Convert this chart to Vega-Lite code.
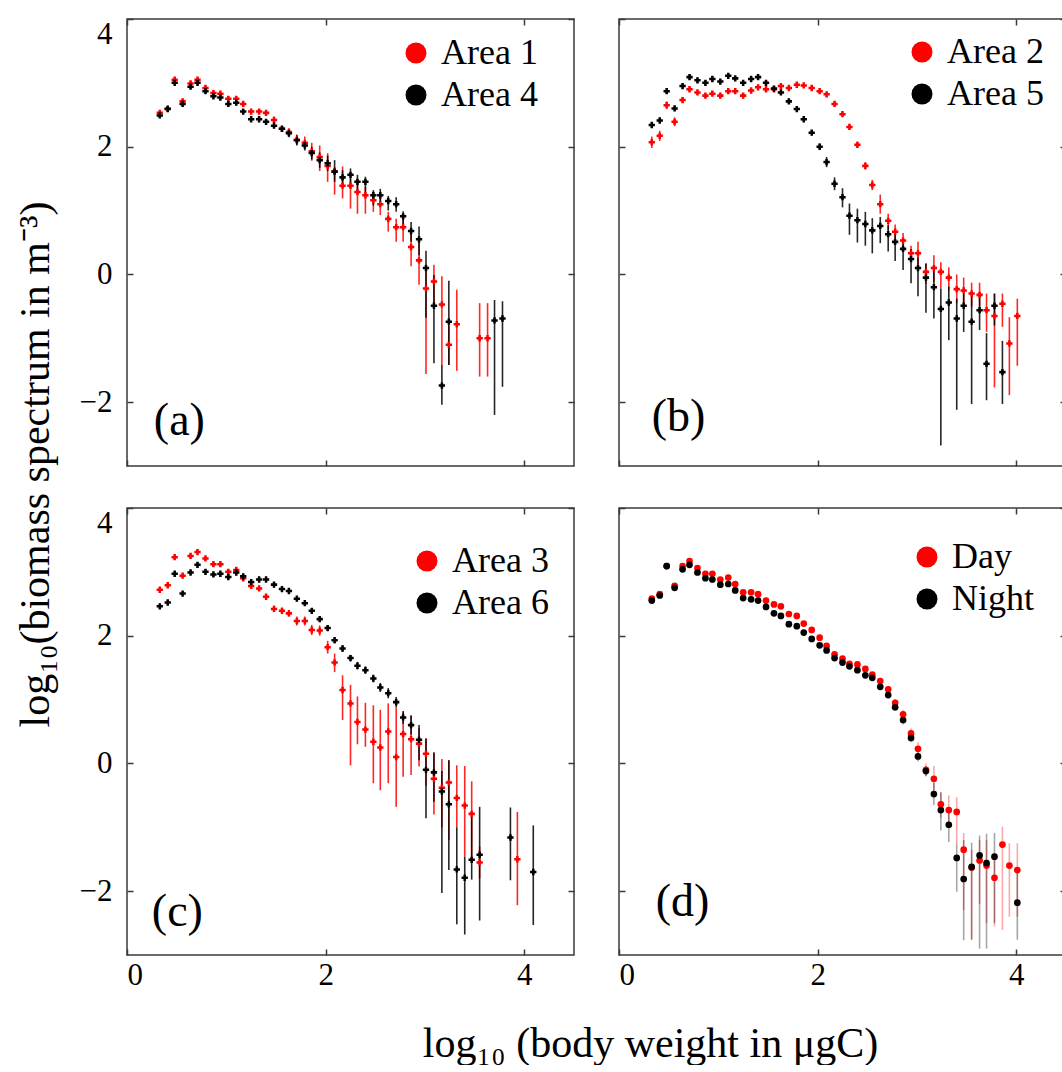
{
"$schema": "https://vega.github.io/schema/vega-lite/v6.json",
"padding": {"left": 13, "top": 17, "right": 0, "bottom": 0},
"config": {
 "font": "Liberation Serif",
 "view": {"stroke": "#3a3a3a", "strokeWidth": 1.5},
 "axis": {"domain": false, "grid": false, "tickSize": -6, "tickColor": "#3a3a3a", "tickWidth": 1.5, "labelFontSize": 31, "labelColor": "black", "labelFont": "Liberation Serif", "titleFont": "Liberation Serif", "titleFontSize": 42, "titleFontWeight": "normal", "titleColor": "black"},
 "axisX": {"labelPadding": 11},
 "axisY": {"labelPadding": 21},
 "legend": {"labelFontSize": 36, "labelFont": "Liberation Serif", "labelColor": "black", "symbolType": "circle", "symbolSize": 440, "symbolStrokeWidth": 0, "labelOffset": 7, "rowPadding": 6, "padding": 0}
},
"datasets": {
 "a": [
{"x":0.33,"y":2.53,"lo":2.49,"hi":2.57,"s":"Area 1"},{"x":0.41,"y":2.60,"lo":2.56,"hi":2.64,"s":"Area 1"},{"x":0.48,"y":3.05,"lo":3.01,"hi":3.09,"s":"Area 1"},{"x":0.56,"y":2.71,"lo":2.67,"hi":2.75,"s":"Area 1"},{"x":0.64,"y":2.99,"lo":2.95,"hi":3.03,"s":"Area 1"},{"x":0.71,"y":3.05,"lo":3.01,"hi":3.09,"s":"Area 1"},{"x":0.79,"y":2.92,"lo":2.88,"hi":2.96,"s":"Area 1"},{"x":0.87,"y":2.84,"lo":2.80,"hi":2.88,"s":"Area 1"},{"x":0.94,"y":2.83,"lo":2.79,"hi":2.87,"s":"Area 1"},{"x":1.02,"y":2.75,"lo":2.71,"hi":2.79,"s":"Area 1"},{"x":1.10,"y":2.75,"lo":2.71,"hi":2.79,"s":"Area 1"},{"x":1.17,"y":2.67,"lo":2.63,"hi":2.71,"s":"Area 1"},{"x":1.25,"y":2.55,"lo":2.51,"hi":2.59,"s":"Area 1"},{"x":1.33,"y":2.55,"lo":2.51,"hi":2.59,"s":"Area 1"},{"x":1.40,"y":2.53,"lo":2.49,"hi":2.57,"s":"Area 1"},{"x":1.48,"y":2.42,"lo":2.37,"hi":2.47,"s":"Area 1"},{"x":1.56,"y":2.28,"lo":2.23,"hi":2.33,"s":"Area 1"},{"x":1.63,"y":2.23,"lo":2.17,"hi":2.29,"s":"Area 1"},{"x":1.71,"y":2.11,"lo":2.03,"hi":2.19,"s":"Area 1"},{"x":1.79,"y":2.06,"lo":1.96,"hi":2.16,"s":"Area 1"},{"x":1.86,"y":1.93,"lo":1.78,"hi":2.06,"s":"Area 1"},{"x":1.94,"y":1.84,"lo":1.62,"hi":2.02,"s":"Area 1"},{"x":2.02,"y":1.70,"lo":1.45,"hi":1.90,"s":"Area 1"},{"x":2.09,"y":1.61,"lo":1.25,"hi":1.68,"s":"Area 1"},{"x":2.17,"y":1.39,"lo":1.19,"hi":1.69,"s":"Area 1"},{"x":2.25,"y":1.39,"lo":1.03,"hi":1.50,"s":"Area 1"},{"x":2.32,"y":1.29,"lo":0.95,"hi":1.45,"s":"Area 1"},{"x":2.40,"y":1.24,"lo":0.95,"hi":1.37,"s":"Area 1"},{"x":2.48,"y":1.16,"lo":0.98,"hi":1.27,"s":"Area 1"},{"x":2.55,"y":1.10,"lo":0.93,"hi":1.24,"s":"Area 1"},{"x":2.63,"y":0.87,"lo":0.67,"hi":0.98,"s":"Area 1"},{"x":2.71,"y":0.74,"lo":0.51,"hi":0.87,"s":"Area 1"},{"x":2.78,"y":0.74,"lo":0.51,"hi":0.87,"s":"Area 1"},{"x":2.86,"y":0.43,"lo":0.13,"hi":0.67,"s":"Area 1"},{"x":2.94,"y":0.22,"lo":-0.16,"hi":0.56,"s":"Area 1"},{"x":3.01,"y":-0.22,"lo":-1.56,"hi":0.15,"s":"Area 1"},{"x":3.09,"y":-0.11,"lo":-0.45,"hi":0.15,"s":"Area 1"},{"x":3.17,"y":-0.47,"lo":-1.42,"hi":-0.03,"s":"Area 1"},{"x":3.24,"y":-1.10,"lo":-1.42,"hi":-0.80,"s":"Area 1"},{"x":3.32,"y":-0.78,"lo":-1.51,"hi":-0.24,"s":"Area 1"},{"x":3.55,"y":-1.00,"lo":-1.60,"hi":-0.45,"s":"Area 1"},{"x":3.63,"y":-1.00,"lo":-1.60,"hi":-0.45,"s":"Area 1"},
{"x":0.33,"y":2.49,"lo":2.45,"hi":2.53,"s":"Area 4"},{"x":0.41,"y":2.59,"lo":2.55,"hi":2.63,"s":"Area 4"},{"x":0.48,"y":3.00,"lo":2.96,"hi":3.04,"s":"Area 4"},{"x":0.56,"y":2.67,"lo":2.63,"hi":2.71,"s":"Area 4"},{"x":0.64,"y":2.94,"lo":2.90,"hi":2.98,"s":"Area 4"},{"x":0.71,"y":3.00,"lo":2.96,"hi":3.04,"s":"Area 4"},{"x":0.79,"y":2.87,"lo":2.83,"hi":2.91,"s":"Area 4"},{"x":0.87,"y":2.79,"lo":2.75,"hi":2.83,"s":"Area 4"},{"x":0.94,"y":2.77,"lo":2.73,"hi":2.81,"s":"Area 4"},{"x":1.02,"y":2.67,"lo":2.63,"hi":2.71,"s":"Area 4"},{"x":1.10,"y":2.69,"lo":2.65,"hi":2.73,"s":"Area 4"},{"x":1.17,"y":2.55,"lo":2.51,"hi":2.59,"s":"Area 4"},{"x":1.25,"y":2.43,"lo":2.39,"hi":2.47,"s":"Area 4"},{"x":1.33,"y":2.43,"lo":2.39,"hi":2.47,"s":"Area 4"},{"x":1.40,"y":2.39,"lo":2.35,"hi":2.43,"s":"Area 4"},{"x":1.48,"y":2.33,"lo":2.29,"hi":2.37,"s":"Area 4"},{"x":1.56,"y":2.28,"lo":2.23,"hi":2.33,"s":"Area 4"},{"x":1.63,"y":2.21,"lo":2.15,"hi":2.27,"s":"Area 4"},{"x":1.71,"y":2.10,"lo":2.02,"hi":2.18,"s":"Area 4"},{"x":1.79,"y":2.02,"lo":1.94,"hi":2.10,"s":"Area 4"},{"x":1.86,"y":1.90,"lo":1.80,"hi":2.00,"s":"Area 4"},{"x":1.94,"y":1.79,"lo":1.67,"hi":1.91,"s":"Area 4"},{"x":2.02,"y":1.74,"lo":1.62,"hi":1.86,"s":"Area 4"},{"x":2.09,"y":1.61,"lo":1.45,"hi":1.79,"s":"Area 4"},{"x":2.17,"y":1.52,"lo":1.40,"hi":1.63,"s":"Area 4"},{"x":2.25,"y":1.56,"lo":1.35,"hi":1.66,"s":"Area 4"},{"x":2.32,"y":1.45,"lo":1.29,"hi":1.56,"s":"Area 4"},{"x":2.40,"y":1.45,"lo":1.27,"hi":1.53,"s":"Area 4"},{"x":2.48,"y":1.24,"lo":1.08,"hi":1.32,"s":"Area 4"},{"x":2.55,"y":1.24,"lo":1.08,"hi":1.34,"s":"Area 4"},{"x":2.63,"y":1.15,"lo":1.00,"hi":1.23,"s":"Area 4"},{"x":2.71,"y":1.10,"lo":0.98,"hi":1.21,"s":"Area 4"},{"x":2.78,"y":0.91,"lo":0.74,"hi":0.99,"s":"Area 4"},{"x":2.86,"y":0.68,"lo":0.51,"hi":0.82,"s":"Area 4"},{"x":2.94,"y":0.55,"lo":0.30,"hi":0.75,"s":"Area 4"},{"x":3.01,"y":0.10,"lo":-0.68,"hi":0.37,"s":"Area 4"},{"x":3.09,"y":-0.49,"lo":-1.39,"hi":-0.01,"s":"Area 4"},{"x":3.17,"y":-1.74,"lo":-2.04,"hi":-1.42,"s":"Area 4"},{"x":3.24,"y":-0.74,"lo":-1.42,"hi":-0.10,"s":"Area 4"},{"x":3.70,"y":-0.72,"lo":-2.20,"hi":-0.40,"s":"Area 4"},{"x":3.78,"y":-0.69,"lo":-1.76,"hi":-0.42,"s":"Area 4"}
 ],
 "b": [
{"x":0.33,"y":2.07,"lo":1.98,"hi":2.16,"s":"Area 2"},{"x":0.41,"y":2.17,"lo":2.09,"hi":2.25,"s":"Area 2"},{"x":0.48,"y":2.65,"lo":2.59,"hi":2.71,"s":"Area 2"},{"x":0.56,"y":2.39,"lo":2.32,"hi":2.46,"s":"Area 2"},{"x":0.64,"y":2.73,"lo":2.69,"hi":2.77,"s":"Area 2"},{"x":0.71,"y":2.90,"lo":2.86,"hi":2.94,"s":"Area 2"},{"x":0.79,"y":2.85,"lo":2.81,"hi":2.89,"s":"Area 2"},{"x":0.87,"y":2.80,"lo":2.76,"hi":2.84,"s":"Area 2"},{"x":0.94,"y":2.83,"lo":2.79,"hi":2.87,"s":"Area 2"},{"x":1.02,"y":2.80,"lo":2.76,"hi":2.84,"s":"Area 2"},{"x":1.10,"y":2.87,"lo":2.83,"hi":2.91,"s":"Area 2"},{"x":1.17,"y":2.87,"lo":2.83,"hi":2.91,"s":"Area 2"},{"x":1.25,"y":2.80,"lo":2.76,"hi":2.84,"s":"Area 2"},{"x":1.33,"y":2.88,"lo":2.84,"hi":2.92,"s":"Area 2"},{"x":1.40,"y":2.93,"lo":2.89,"hi":2.97,"s":"Area 2"},{"x":1.48,"y":2.90,"lo":2.86,"hi":2.94,"s":"Area 2"},{"x":1.56,"y":2.90,"lo":2.86,"hi":2.94,"s":"Area 2"},{"x":1.63,"y":2.95,"lo":2.91,"hi":2.99,"s":"Area 2"},{"x":1.71,"y":2.92,"lo":2.88,"hi":2.96,"s":"Area 2"},{"x":1.79,"y":2.97,"lo":2.93,"hi":3.01,"s":"Area 2"},{"x":1.86,"y":2.96,"lo":2.92,"hi":3.00,"s":"Area 2"},{"x":1.94,"y":2.92,"lo":2.88,"hi":2.96,"s":"Area 2"},{"x":2.02,"y":2.87,"lo":2.83,"hi":2.91,"s":"Area 2"},{"x":2.09,"y":2.82,"lo":2.78,"hi":2.86,"s":"Area 2"},{"x":2.17,"y":2.67,"lo":2.63,"hi":2.71,"s":"Area 2"},{"x":2.25,"y":2.51,"lo":2.47,"hi":2.55,"s":"Area 2"},{"x":2.32,"y":2.31,"lo":2.27,"hi":2.35,"s":"Area 2"},{"x":2.40,"y":2.03,"lo":1.98,"hi":2.08,"s":"Area 2"},{"x":2.48,"y":1.70,"lo":1.64,"hi":1.76,"s":"Area 2"},{"x":2.55,"y":1.40,"lo":1.32,"hi":1.48,"s":"Area 2"},{"x":2.63,"y":1.10,"lo":0.95,"hi":1.25,"s":"Area 2"},{"x":2.71,"y":0.84,"lo":0.70,"hi":0.95,"s":"Area 2"},{"x":2.78,"y":0.67,"lo":0.55,"hi":0.78,"s":"Area 2"},{"x":2.86,"y":0.53,"lo":0.40,"hi":0.65,"s":"Area 2"},{"x":2.94,"y":0.33,"lo":0.20,"hi":0.45,"s":"Area 2"},{"x":3.01,"y":0.33,"lo":0.15,"hi":0.51,"s":"Area 2"},{"x":3.09,"y":0.04,"lo":-0.15,"hi":0.17,"s":"Area 2"},{"x":3.17,"y":0.10,"lo":-0.12,"hi":0.30,"s":"Area 2"},{"x":3.24,"y":0.04,"lo":-0.22,"hi":0.19,"s":"Area 2"},{"x":3.32,"y":-0.05,"lo":-0.25,"hi":0.11,"s":"Area 2"},{"x":3.40,"y":-0.23,"lo":-0.45,"hi":0.00,"s":"Area 2"},{"x":3.47,"y":-0.25,"lo":-0.45,"hi":-0.05,"s":"Area 2"},{"x":3.55,"y":-0.30,"lo":-0.50,"hi":-0.13,"s":"Area 2"},{"x":3.63,"y":-0.32,"lo":-0.50,"hi":-0.13,"s":"Area 2"},{"x":3.70,"y":-0.56,"lo":-0.90,"hi":-0.30,"s":"Area 2"},{"x":3.78,"y":-0.65,"lo":-1.77,"hi":-0.30,"s":"Area 2"},{"x":3.86,"y":-0.46,"lo":-0.82,"hi":-0.30,"s":"Area 2"},{"x":3.93,"y":-1.08,"lo":-1.89,"hi":-0.67,"s":"Area 2"},{"x":4.01,"y":-0.65,"lo":-1.43,"hi":-0.38,"s":"Area 2"},
{"x":0.33,"y":2.34,"lo":2.30,"hi":2.38,"s":"Area 5"},{"x":0.41,"y":2.41,"lo":2.37,"hi":2.45,"s":"Area 5"},{"x":0.48,"y":2.87,"lo":2.83,"hi":2.91,"s":"Area 5"},{"x":0.56,"y":2.60,"lo":2.56,"hi":2.64,"s":"Area 5"},{"x":0.64,"y":2.95,"lo":2.91,"hi":2.99,"s":"Area 5"},{"x":0.71,"y":3.09,"lo":3.05,"hi":3.13,"s":"Area 5"},{"x":0.79,"y":3.04,"lo":3.00,"hi":3.08,"s":"Area 5"},{"x":0.87,"y":3.00,"lo":2.96,"hi":3.04,"s":"Area 5"},{"x":0.94,"y":3.06,"lo":3.02,"hi":3.10,"s":"Area 5"},{"x":1.02,"y":3.02,"lo":2.98,"hi":3.06,"s":"Area 5"},{"x":1.10,"y":3.11,"lo":3.07,"hi":3.15,"s":"Area 5"},{"x":1.17,"y":3.07,"lo":3.03,"hi":3.11,"s":"Area 5"},{"x":1.25,"y":3.00,"lo":2.96,"hi":3.04,"s":"Area 5"},{"x":1.33,"y":3.06,"lo":3.02,"hi":3.10,"s":"Area 5"},{"x":1.40,"y":3.09,"lo":3.05,"hi":3.13,"s":"Area 5"},{"x":1.48,"y":3.00,"lo":2.96,"hi":3.04,"s":"Area 5"},{"x":1.56,"y":2.91,"lo":2.87,"hi":2.95,"s":"Area 5"},{"x":1.63,"y":2.85,"lo":2.81,"hi":2.89,"s":"Area 5"},{"x":1.71,"y":2.71,"lo":2.67,"hi":2.75,"s":"Area 5"},{"x":1.79,"y":2.59,"lo":2.55,"hi":2.63,"s":"Area 5"},{"x":1.86,"y":2.43,"lo":2.39,"hi":2.47,"s":"Area 5"},{"x":1.94,"y":2.22,"lo":2.18,"hi":2.26,"s":"Area 5"},{"x":2.02,"y":2.00,"lo":1.95,"hi":2.05,"s":"Area 5"},{"x":2.09,"y":1.76,"lo":1.68,"hi":1.84,"s":"Area 5"},{"x":2.17,"y":1.42,"lo":1.32,"hi":1.52,"s":"Area 5"},{"x":2.25,"y":1.21,"lo":1.05,"hi":1.35,"s":"Area 5"},{"x":2.32,"y":0.92,"lo":0.62,"hi":1.11,"s":"Area 5"},{"x":2.40,"y":0.85,"lo":0.50,"hi":1.03,"s":"Area 5"},{"x":2.48,"y":0.79,"lo":0.45,"hi":0.98,"s":"Area 5"},{"x":2.55,"y":0.69,"lo":0.33,"hi":0.88,"s":"Area 5"},{"x":2.63,"y":0.76,"lo":0.49,"hi":0.90,"s":"Area 5"},{"x":2.71,"y":0.63,"lo":0.36,"hi":0.77,"s":"Area 5"},{"x":2.78,"y":0.51,"lo":0.21,"hi":0.65,"s":"Area 5"},{"x":2.86,"y":0.40,"lo":0.07,"hi":0.55,"s":"Area 5"},{"x":2.94,"y":0.24,"lo":-0.14,"hi":0.40,"s":"Area 5"},{"x":3.01,"y":0.10,"lo":-0.34,"hi":0.27,"s":"Area 5"},{"x":3.09,"y":-0.05,"lo":-0.60,"hi":0.17,"s":"Area 5"},{"x":3.17,"y":-0.20,"lo":-0.69,"hi":0.12,"s":"Area 5"},{"x":3.24,"y":-0.54,"lo":-2.68,"hi":-0.22,"s":"Area 5"},{"x":3.32,"y":-0.44,"lo":-1.03,"hi":-0.19,"s":"Area 5"},{"x":3.40,"y":-0.69,"lo":-2.12,"hi":-0.38,"s":"Area 5"},{"x":3.47,"y":-0.49,"lo":-0.90,"hi":-0.30,"s":"Area 5"},{"x":3.55,"y":-0.74,"lo":-2.03,"hi":-0.31,"s":"Area 5"},{"x":3.63,"y":-0.56,"lo":-0.87,"hi":-0.33,"s":"Area 5"},{"x":3.70,"y":-1.40,"lo":-1.97,"hi":-0.92,"s":"Area 5"},{"x":3.78,"y":-0.49,"lo":-0.80,"hi":-0.30,"s":"Area 5"},{"x":3.86,"y":-1.53,"lo":-2.03,"hi":-1.04,"s":"Area 5"}
 ],
 "c": [
{"x":0.33,"y":2.72,"lo":2.68,"hi":2.76,"s":"Area 3"},{"x":0.41,"y":2.79,"lo":2.75,"hi":2.83,"s":"Area 3"},{"x":0.48,"y":3.23,"lo":3.19,"hi":3.27,"s":"Area 3"},{"x":0.56,"y":2.94,"lo":2.90,"hi":2.98,"s":"Area 3"},{"x":0.64,"y":3.25,"lo":3.21,"hi":3.29,"s":"Area 3"},{"x":0.71,"y":3.31,"lo":3.27,"hi":3.35,"s":"Area 3"},{"x":0.79,"y":3.21,"lo":3.17,"hi":3.25,"s":"Area 3"},{"x":0.87,"y":3.12,"lo":3.08,"hi":3.16,"s":"Area 3"},{"x":0.94,"y":3.12,"lo":3.08,"hi":3.16,"s":"Area 3"},{"x":1.02,"y":3.00,"lo":2.96,"hi":3.04,"s":"Area 3"},{"x":1.10,"y":3.03,"lo":2.99,"hi":3.07,"s":"Area 3"},{"x":1.17,"y":2.90,"lo":2.86,"hi":2.94,"s":"Area 3"},{"x":1.25,"y":2.78,"lo":2.74,"hi":2.82,"s":"Area 3"},{"x":1.33,"y":2.74,"lo":2.70,"hi":2.78,"s":"Area 3"},{"x":1.40,"y":2.61,"lo":2.57,"hi":2.65,"s":"Area 3"},{"x":1.48,"y":2.42,"lo":2.37,"hi":2.47,"s":"Area 3"},{"x":1.56,"y":2.39,"lo":2.34,"hi":2.44,"s":"Area 3"},{"x":1.63,"y":2.35,"lo":2.30,"hi":2.40,"s":"Area 3"},{"x":1.71,"y":2.23,"lo":2.16,"hi":2.30,"s":"Area 3"},{"x":1.79,"y":2.23,"lo":2.16,"hi":2.30,"s":"Area 3"},{"x":1.86,"y":2.09,"lo":2.01,"hi":2.17,"s":"Area 3"},{"x":1.94,"y":2.08,"lo":2.00,"hi":2.16,"s":"Area 3"},{"x":2.02,"y":1.82,"lo":1.72,"hi":1.92,"s":"Area 3"},{"x":2.09,"y":1.58,"lo":1.43,"hi":1.72,"s":"Area 3"},{"x":2.17,"y":1.15,"lo":0.68,"hi":1.38,"s":"Area 3"},{"x":2.25,"y":0.94,"lo":-0.03,"hi":1.23,"s":"Area 3"},{"x":2.32,"y":0.65,"lo":0.30,"hi":1.05,"s":"Area 3"},{"x":2.40,"y":0.53,"lo":0.26,"hi":0.95,"s":"Area 3"},{"x":2.48,"y":0.34,"lo":-0.31,"hi":0.91,"s":"Area 3"},{"x":2.55,"y":0.25,"lo":-0.42,"hi":0.84,"s":"Area 3"},{"x":2.63,"y":0.50,"lo":-0.31,"hi":0.94,"s":"Area 3"},{"x":2.71,"y":0.10,"lo":-0.68,"hi":0.88,"s":"Area 3"},{"x":2.78,"y":0.46,"lo":-0.21,"hi":0.80,"s":"Area 3"},{"x":2.86,"y":0.38,"lo":-0.18,"hi":0.75,"s":"Area 3"},{"x":2.94,"y":0.31,"lo":-0.05,"hi":0.55,"s":"Area 3"},{"x":3.01,"y":0.15,"lo":-0.35,"hi":0.39,"s":"Area 3"},{"x":3.09,"y":-0.24,"lo":-0.80,"hi":0.17,"s":"Area 3"},{"x":3.17,"y":-0.38,"lo":-1.00,"hi":0.07,"s":"Area 3"},{"x":3.24,"y":-0.30,"lo":-1.20,"hi":0.05,"s":"Area 3"},{"x":3.32,"y":-0.54,"lo":-1.00,"hi":-0.03,"s":"Area 3"},{"x":3.40,"y":-0.66,"lo":-1.46,"hi":-0.04,"s":"Area 3"},{"x":3.47,"y":-0.79,"lo":-1.50,"hi":-0.28,"s":"Area 3"},{"x":3.55,"y":-1.55,"lo":-1.80,"hi":-1.30,"s":"Area 3"},{"x":3.93,"y":-1.50,"lo":-2.22,"hi":-0.76,"s":"Area 3"},
{"x":0.33,"y":2.46,"lo":2.42,"hi":2.50,"s":"Area 6"},{"x":0.41,"y":2.52,"lo":2.48,"hi":2.56,"s":"Area 6"},{"x":0.48,"y":2.97,"lo":2.93,"hi":3.01,"s":"Area 6"},{"x":0.56,"y":2.66,"lo":2.62,"hi":2.70,"s":"Area 6"},{"x":0.64,"y":2.99,"lo":2.95,"hi":3.03,"s":"Area 6"},{"x":0.71,"y":3.11,"lo":3.07,"hi":3.15,"s":"Area 6"},{"x":0.79,"y":3.00,"lo":2.96,"hi":3.04,"s":"Area 6"},{"x":0.87,"y":2.96,"lo":2.92,"hi":3.00,"s":"Area 6"},{"x":0.94,"y":2.97,"lo":2.93,"hi":3.01,"s":"Area 6"},{"x":1.02,"y":2.92,"lo":2.88,"hi":2.96,"s":"Area 6"},{"x":1.10,"y":2.99,"lo":2.95,"hi":3.03,"s":"Area 6"},{"x":1.17,"y":2.93,"lo":2.89,"hi":2.97,"s":"Area 6"},{"x":1.25,"y":2.84,"lo":2.80,"hi":2.88,"s":"Area 6"},{"x":1.33,"y":2.88,"lo":2.84,"hi":2.92,"s":"Area 6"},{"x":1.40,"y":2.88,"lo":2.84,"hi":2.92,"s":"Area 6"},{"x":1.48,"y":2.80,"lo":2.76,"hi":2.84,"s":"Area 6"},{"x":1.56,"y":2.73,"lo":2.69,"hi":2.77,"s":"Area 6"},{"x":1.63,"y":2.70,"lo":2.66,"hi":2.74,"s":"Area 6"},{"x":1.71,"y":2.58,"lo":2.54,"hi":2.62,"s":"Area 6"},{"x":1.79,"y":2.51,"lo":2.47,"hi":2.55,"s":"Area 6"},{"x":1.86,"y":2.39,"lo":2.35,"hi":2.43,"s":"Area 6"},{"x":1.94,"y":2.26,"lo":2.22,"hi":2.30,"s":"Area 6"},{"x":2.02,"y":2.12,"lo":2.08,"hi":2.16,"s":"Area 6"},{"x":2.09,"y":1.93,"lo":1.88,"hi":1.98,"s":"Area 6"},{"x":2.17,"y":1.80,"lo":1.75,"hi":1.85,"s":"Area 6"},{"x":2.25,"y":1.65,"lo":1.60,"hi":1.70,"s":"Area 6"},{"x":2.32,"y":1.53,"lo":1.47,"hi":1.59,"s":"Area 6"},{"x":2.40,"y":1.46,"lo":1.40,"hi":1.52,"s":"Area 6"},{"x":2.48,"y":1.33,"lo":1.27,"hi":1.39,"s":"Area 6"},{"x":2.55,"y":1.19,"lo":1.12,"hi":1.26,"s":"Area 6"},{"x":2.63,"y":1.10,"lo":1.02,"hi":1.18,"s":"Area 6"},{"x":2.71,"y":0.96,"lo":0.88,"hi":1.04,"s":"Area 6"},{"x":2.78,"y":0.72,"lo":0.62,"hi":0.82,"s":"Area 6"},{"x":2.86,"y":0.60,"lo":0.45,"hi":0.75,"s":"Area 6"},{"x":2.94,"y":0.37,"lo":0.05,"hi":0.60,"s":"Area 6"},{"x":3.01,"y":-0.10,"lo":-0.86,"hi":0.39,"s":"Area 6"},{"x":3.09,"y":-0.14,"lo":-0.60,"hi":0.17,"s":"Area 6"},{"x":3.17,"y":-0.44,"lo":-2.03,"hi":-0.12,"s":"Area 6"},{"x":3.24,"y":-0.64,"lo":-1.67,"hi":0.05,"s":"Area 6"},{"x":3.32,"y":-1.66,"lo":-2.52,"hi":-1.00,"s":"Area 6"},{"x":3.40,"y":-1.79,"lo":-2.68,"hi":-1.46,"s":"Area 6"},{"x":3.47,"y":-1.51,"lo":-1.82,"hi":-0.83,"s":"Area 6"},{"x":3.55,"y":-1.43,"lo":-2.46,"hi":-0.68,"s":"Area 6"},{"x":3.86,"y":-1.16,"lo":-1.83,"hi":-0.69,"s":"Area 6"},{"x":4.09,"y":-1.70,"lo":-2.53,"hi":-0.97,"s":"Area 6"}
 ],
 "d": [
{"x":0.33,"y":2.58,"lo":2.54,"hi":2.62,"s":"Day"},{"x":0.41,"y":2.65,"lo":2.61,"hi":2.69,"s":"Day"},{"x":0.48,"y":3.09,"lo":3.05,"hi":3.13,"s":"Day"},{"x":0.56,"y":2.78,"lo":2.74,"hi":2.82,"s":"Day"},{"x":0.64,"y":3.09,"lo":3.05,"hi":3.13,"s":"Day"},{"x":0.71,"y":3.17,"lo":3.13,"hi":3.21,"s":"Day"},{"x":0.79,"y":3.06,"lo":3.02,"hi":3.10,"s":"Day"},{"x":0.87,"y":2.97,"lo":2.93,"hi":3.01,"s":"Day"},{"x":0.94,"y":2.97,"lo":2.93,"hi":3.01,"s":"Day"},{"x":1.02,"y":2.88,"lo":2.84,"hi":2.92,"s":"Day"},{"x":1.10,"y":2.91,"lo":2.87,"hi":2.95,"s":"Day"},{"x":1.17,"y":2.81,"lo":2.77,"hi":2.85,"s":"Day"},{"x":1.25,"y":2.68,"lo":2.64,"hi":2.72,"s":"Day"},{"x":1.33,"y":2.68,"lo":2.64,"hi":2.72,"s":"Day"},{"x":1.40,"y":2.65,"lo":2.61,"hi":2.69,"s":"Day"},{"x":1.48,"y":2.55,"lo":2.51,"hi":2.59,"s":"Day"},{"x":1.56,"y":2.49,"lo":2.45,"hi":2.53,"s":"Day"},{"x":1.63,"y":2.46,"lo":2.42,"hi":2.50,"s":"Day"},{"x":1.71,"y":2.34,"lo":2.30,"hi":2.38,"s":"Day"},{"x":1.79,"y":2.31,"lo":2.27,"hi":2.35,"s":"Day"},{"x":1.86,"y":2.19,"lo":2.15,"hi":2.23,"s":"Day"},{"x":1.94,"y":2.09,"lo":2.05,"hi":2.13,"s":"Day"},{"x":2.02,"y":1.97,"lo":1.93,"hi":2.01,"s":"Day"},{"x":2.09,"y":1.84,"lo":1.80,"hi":1.88,"s":"Day"},{"x":2.17,"y":1.71,"lo":1.67,"hi":1.75,"s":"Day"},{"x":2.25,"y":1.64,"lo":1.60,"hi":1.68,"s":"Day"},{"x":2.32,"y":1.56,"lo":1.52,"hi":1.60,"s":"Day"},{"x":2.40,"y":1.55,"lo":1.51,"hi":1.59,"s":"Day"},{"x":2.48,"y":1.48,"lo":1.44,"hi":1.52,"s":"Day"},{"x":2.55,"y":1.39,"lo":1.35,"hi":1.43,"s":"Day"},{"x":2.63,"y":1.29,"lo":1.24,"hi":1.34,"s":"Day"},{"x":2.71,"y":1.16,"lo":1.11,"hi":1.21,"s":"Day"},{"x":2.78,"y":0.95,"lo":0.89,"hi":1.01,"s":"Day"},{"x":2.86,"y":0.77,"lo":0.70,"hi":0.84,"s":"Day"},{"x":2.94,"y":0.47,"lo":0.40,"hi":0.55,"s":"Day"},{"x":3.01,"y":0.23,"lo":0.13,"hi":0.33,"s":"Day"},{"x":3.09,"y":-0.10,"lo":-0.20,"hi":0.00,"s":"Day"},{"x":3.17,"y":-0.24,"lo":-0.45,"hi":-0.04,"s":"Day"},{"x":3.24,"y":-0.64,"lo":-0.85,"hi":-0.45,"s":"Day"},{"x":3.32,"y":-0.73,"lo":-1.00,"hi":-0.50,"s":"Day"},{"x":3.40,"y":-0.76,"lo":-1.25,"hi":-0.53,"s":"Day"},{"x":3.47,"y":-1.35,"lo":-2.30,"hi":-1.09,"s":"Day"},{"x":3.55,"y":-1.63,"lo":-2.76,"hi":-1.35,"s":"Day"},{"x":3.63,"y":-1.52,"lo":-2.20,"hi":-1.20,"s":"Day"},{"x":3.70,"y":-1.60,"lo":-2.50,"hi":-1.20,"s":"Day"},{"x":3.78,"y":-1.79,"lo":-2.55,"hi":-1.45,"s":"Day"},{"x":3.86,"y":-1.27,"lo":-2.61,"hi":-0.99,"s":"Day"},{"x":3.93,"y":-1.60,"lo":-2.40,"hi":-1.25,"s":"Day"},{"x":4.01,"y":-1.67,"lo":-2.40,"hi":-1.25,"s":"Day"},
{"x":0.33,"y":2.55,"lo":2.51,"hi":2.59,"s":"Night"},{"x":0.41,"y":2.63,"lo":2.59,"hi":2.67,"s":"Night"},{"x":0.48,"y":3.09,"lo":3.05,"hi":3.13,"s":"Night"},{"x":0.56,"y":2.75,"lo":2.71,"hi":2.79,"s":"Night"},{"x":0.64,"y":3.04,"lo":3.00,"hi":3.08,"s":"Night"},{"x":0.71,"y":3.11,"lo":3.07,"hi":3.15,"s":"Night"},{"x":0.79,"y":2.99,"lo":2.95,"hi":3.03,"s":"Night"},{"x":0.87,"y":2.90,"lo":2.86,"hi":2.94,"s":"Night"},{"x":0.94,"y":2.88,"lo":2.84,"hi":2.92,"s":"Night"},{"x":1.02,"y":2.80,"lo":2.76,"hi":2.84,"s":"Night"},{"x":1.10,"y":2.81,"lo":2.77,"hi":2.85,"s":"Night"},{"x":1.17,"y":2.71,"lo":2.67,"hi":2.75,"s":"Night"},{"x":1.25,"y":2.59,"lo":2.55,"hi":2.63,"s":"Night"},{"x":1.33,"y":2.57,"lo":2.53,"hi":2.61,"s":"Night"},{"x":1.40,"y":2.55,"lo":2.51,"hi":2.59,"s":"Night"},{"x":1.48,"y":2.45,"lo":2.41,"hi":2.49,"s":"Night"},{"x":1.56,"y":2.35,"lo":2.31,"hi":2.39,"s":"Night"},{"x":1.63,"y":2.31,"lo":2.27,"hi":2.35,"s":"Night"},{"x":1.71,"y":2.18,"lo":2.14,"hi":2.22,"s":"Night"},{"x":1.79,"y":2.15,"lo":2.11,"hi":2.19,"s":"Night"},{"x":1.86,"y":2.05,"lo":2.01,"hi":2.09,"s":"Night"},{"x":1.94,"y":1.95,"lo":1.91,"hi":1.99,"s":"Night"},{"x":2.02,"y":1.85,"lo":1.81,"hi":1.89,"s":"Night"},{"x":2.09,"y":1.77,"lo":1.73,"hi":1.81,"s":"Night"},{"x":2.17,"y":1.65,"lo":1.61,"hi":1.69,"s":"Night"},{"x":2.25,"y":1.58,"lo":1.54,"hi":1.62,"s":"Night"},{"x":2.32,"y":1.52,"lo":1.48,"hi":1.56,"s":"Night"},{"x":2.40,"y":1.46,"lo":1.42,"hi":1.50,"s":"Night"},{"x":2.48,"y":1.38,"lo":1.34,"hi":1.42,"s":"Night"},{"x":2.55,"y":1.34,"lo":1.30,"hi":1.38,"s":"Night"},{"x":2.63,"y":1.20,"lo":1.15,"hi":1.25,"s":"Night"},{"x":2.71,"y":1.07,"lo":1.02,"hi":1.12,"s":"Night"},{"x":2.78,"y":0.88,"lo":0.82,"hi":0.94,"s":"Night"},{"x":2.86,"y":0.68,"lo":0.61,"hi":0.75,"s":"Night"},{"x":2.94,"y":0.40,"lo":0.33,"hi":0.47,"s":"Night"},{"x":3.01,"y":0.11,"lo":0.03,"hi":0.19,"s":"Night"},{"x":3.09,"y":-0.12,"lo":-0.20,"hi":-0.04,"s":"Night"},{"x":3.17,"y":-0.48,"lo":-0.65,"hi":-0.30,"s":"Night"},{"x":3.24,"y":-0.73,"lo":-1.05,"hi":-0.45,"s":"Night"},{"x":3.32,"y":-0.96,"lo":-1.23,"hi":-0.73,"s":"Night"},{"x":3.40,"y":-1.48,"lo":-2.01,"hi":-1.25,"s":"Night"},{"x":3.47,"y":-1.81,"lo":-2.77,"hi":-1.20,"s":"Night"},{"x":3.55,"y":-1.62,"lo":-2.76,"hi":-1.24,"s":"Night"},{"x":3.63,"y":-1.44,"lo":-2.90,"hi":-1.13,"s":"Night"},{"x":3.70,"y":-1.56,"lo":-2.90,"hi":-1.10,"s":"Night"},{"x":3.78,"y":-1.46,"lo":-2.50,"hi":-1.09,"s":"Night"},{"x":4.01,"y":-2.18,"lo":-2.76,"hi":-1.67,"s":"Night"}
 ]
},
"columns": 2,
"spacing": {"row": 42, "column": 45},
"bounds": "flush",
"resolve": {"scale": {"color": "independent", "stroke": "independent"}, "legend": {"color": "independent", "stroke": "independent"}},
"concat": [
 {
  "width": 447, "height": 447,
  "data": {"name": "a"},
  "layer": [
   {"mark": {"type": "rule", "strokeWidth": 1.6, "opacity": 0.85},
    "encoding": {
     "x": {"field": "x", "type": "quantitative", "scale": {"domain": [0, 4.5], "nice": false, "zero": false}, "axis": {"orient": "bottom", "values": [0, 2, 4], "labels": false, "title": null}},
     "y": {"field": "lo", "type": "quantitative", "scale": {"domain": [-3, 4], "nice": false, "zero": false}, "axis": {"orient": "left", "values": [-2, 0, 2, 4], "labelFlush": true, "title": "log₁₀(biomass spectrum in m⁻³)", "titleX": -92, "titleY": 445, "titleAngle": -90, "titleAlign": "center", "titleBaseline": "middle"}},
     "y2": {"field": "hi"},
     "stroke": {"field": "s", "type": "nominal", "scale": {"domain": ["Area 4", "Area 1"], "range": ["#000000", "#ff0000"]}, "legend": null}
    }},
   {"mark": {"type": "point", "shape": "cross", "filled": true, "size": 40, "opacity": 1},
    "encoding": {
     "x": {"field": "x", "type": "quantitative", "axis": {"orient": "top", "values": [0, 2, 4], "labels": false, "title": null}},
     "y": {"field": "y", "type": "quantitative", "axis": {"orient": "right", "values": [-2, 0, 2, 4], "labels": false, "title": null}},
     "color": {"field": "s", "type": "nominal", "scale": {"domain": ["Area 1", "Area 4"], "range": ["#ff0000", "#000000"]}, "legend": {"title": null, "orient": "none", "legendX": 271, "legendY": 16, "symbolType": "circle", "symbolSize": 440, "encode": {"symbols": {"update": {"size": {"value": 440}, "shape": {"value": "circle"}}}}}}
    }},
   {"data": {"values": [{"t": "(a)"}]},
    "mark": {"type": "text", "fontSize": 46, "align": "left", "baseline": "middle", "color": "black"},
    "encoding": {"x": {"datum": 0.27, "axis": null}, "y": {"datum": -2.29, "axis": null}, "text": {"field": "t"}}}
  ],
  "resolve": {"axis": {"x": "independent", "y": "independent"}}
 },
 {
  "width": 447, "height": 447,
  "data": {"name": "b"},
  "layer": [
   {"mark": {"type": "rule", "strokeWidth": 1.6, "opacity": 0.85},
    "encoding": {
     "x": {"field": "x", "type": "quantitative", "scale": {"domain": [0, 4.5], "nice": false, "zero": false}, "axis": {"orient": "bottom", "values": [0, 2, 4], "labels": false, "title": null}},
     "y": {"field": "lo", "type": "quantitative", "scale": {"domain": [-3, 4], "nice": false, "zero": false}, "axis": {"orient": "left", "values": [-2, 0, 2, 4], "labels": false, "title": null}},
     "y2": {"field": "hi"},
     "stroke": {"field": "s", "type": "nominal", "scale": {"domain": ["Area 5", "Area 2"], "range": ["#000000", "#ff0000"]}, "legend": null}
    }},
   {"mark": {"type": "point", "shape": "cross", "filled": true, "size": 40, "opacity": 1},
    "encoding": {
     "x": {"field": "x", "type": "quantitative", "axis": {"orient": "top", "values": [0, 2, 4], "labels": false, "title": null}},
     "y": {"field": "y", "type": "quantitative", "axis": {"orient": "right", "values": [-2, 0, 2, 4], "labels": false, "title": null}},
     "color": {"field": "s", "type": "nominal", "scale": {"domain": ["Area 2", "Area 5"], "range": ["#ff0000", "#000000"]}, "legend": {"title": null, "orient": "none", "legendX": 285, "legendY": 15, "symbolType": "circle", "symbolSize": 440, "encode": {"symbols": {"update": {"size": {"value": 440}, "shape": {"value": "circle"}}}}}}
    }},
   {"data": {"values": [{"t": "(b)"}]},
    "mark": {"type": "text", "fontSize": 46, "align": "left", "baseline": "middle", "color": "black"},
    "encoding": {"x": {"datum": 0.33, "axis": null}, "y": {"datum": -2.23, "axis": null}, "text": {"field": "t"}}}
  ],
  "resolve": {"axis": {"x": "independent", "y": "independent"}}
 },
 {
  "width": 447, "height": 447,
  "data": {"name": "c"},
  "layer": [
   {"mark": {"type": "rule", "strokeWidth": 1.6, "opacity": 0.85},
    "encoding": {
     "x": {"field": "x", "type": "quantitative", "scale": {"domain": [0, 4.5], "nice": false, "zero": false}, "axis": {"orient": "bottom", "values": [0, 2, 4], "title": "log₁₀ (body weight in μgC)", "titleX": 523, "titleY": 88, "titleAlign": "center", "titleBaseline": "middle"}},
     "y": {"field": "lo", "type": "quantitative", "scale": {"domain": [-3, 4], "nice": false, "zero": false}, "axis": {"orient": "left", "values": [-2, 0, 2, 4], "labelFlush": true, "title": null}},
     "y2": {"field": "hi"},
     "stroke": {"field": "s", "type": "nominal", "scale": {"domain": ["Area 6", "Area 3"], "range": ["#000000", "#ff0000"]}, "legend": null}
    }},
   {"mark": {"type": "point", "shape": "cross", "filled": true, "size": 40, "opacity": 1},
    "encoding": {
     "x": {"field": "x", "type": "quantitative", "axis": {"orient": "top", "values": [0, 2, 4], "labels": false, "title": null}},
     "y": {"field": "y", "type": "quantitative", "axis": {"orient": "right", "values": [-2, 0, 2, 4], "labels": false, "title": null}},
     "color": {"field": "s", "type": "nominal", "scale": {"domain": ["Area 3", "Area 6"], "range": ["#ff0000", "#000000"]}, "legend": {"title": null, "orient": "none", "legendX": 282, "legendY": 35, "symbolType": "circle", "symbolSize": 440, "encode": {"symbols": {"update": {"size": {"value": 440}, "shape": {"value": "circle"}}}}}}
    }},
   {"data": {"values": [{"t": "(c)"}]},
    "mark": {"type": "text", "fontSize": 46, "align": "left", "baseline": "middle", "color": "black"},
    "encoding": {"x": {"datum": 0.25, "axis": null}, "y": {"datum": -2.32, "axis": null}, "text": {"field": "t"}}}
  ],
  "resolve": {"axis": {"x": "independent", "y": "independent"}}
 },
 {
  "width": 447, "height": 447,
  "data": {"name": "d"},
  "layer": [
   {"mark": {"type": "rule", "strokeWidth": 1.6, "opacity": 0.35},
    "encoding": {
     "x": {"field": "x", "type": "quantitative", "scale": {"domain": [0, 4.5], "nice": false, "zero": false}, "axis": {"orient": "bottom", "values": [0, 2, 4], "title": null}},
     "y": {"field": "lo", "type": "quantitative", "scale": {"domain": [-3, 4], "nice": false, "zero": false}, "axis": {"orient": "left", "values": [-2, 0, 2, 4], "labels": false, "title": null}},
     "y2": {"field": "hi"},
     "stroke": {"field": "s", "type": "nominal", "scale": {"domain": ["Night", "Day"], "range": ["#000000", "#ff0000"]}, "legend": null}
    }},
   {"mark": {"type": "point", "shape": "circle", "filled": true, "size": 45, "opacity": 1},
    "encoding": {
     "x": {"field": "x", "type": "quantitative", "axis": {"orient": "top", "values": [0, 2, 4], "labels": false, "title": null}},
     "y": {"field": "y", "type": "quantitative", "axis": {"orient": "right", "values": [-2, 0, 2, 4], "labels": false, "title": null}},
     "color": {"field": "s", "type": "nominal", "scale": {"domain": ["Day", "Night"], "range": ["#ff0000", "#000000"]}, "legend": {"title": null, "orient": "none", "legendX": 290, "legendY": 31, "symbolType": "circle", "symbolSize": 440, "encode": {"symbols": {"update": {"size": {"value": 440}, "shape": {"value": "circle"}}}}}}
    }},
   {"data": {"values": [{"t": "(d)"}]},
    "mark": {"type": "text", "fontSize": 46, "align": "left", "baseline": "middle", "color": "black"},
    "encoding": {"x": {"datum": 0.37, "axis": null}, "y": {"datum": -2.17, "axis": null}, "text": {"field": "t"}}}
  ],
  "resolve": {"axis": {"x": "independent", "y": "independent"}}
 }
]
}
